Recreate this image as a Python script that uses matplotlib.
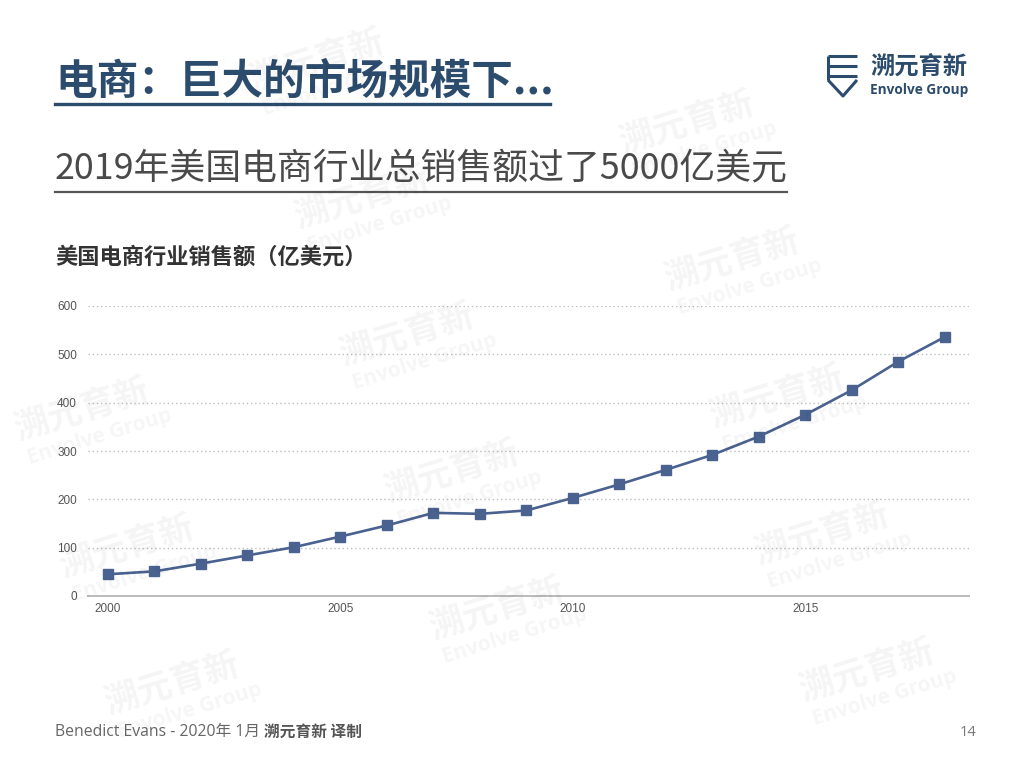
import matplotlib
matplotlib.use("Agg")
import matplotlib.pyplot as plt
import numpy as np

# 美国电商行业销售额（亿美元）
years = [2000, 2001, 2002, 2003, 2004, 2005, 2006, 2007, 2008, 2009,
         2010, 2011, 2012, 2013, 2014, 2015, 2016, 2017, 2018]
sales = [45, 51, 67, 84, 101, 123, 146, 172, 170, 177,
         203, 231, 261, 292, 330, 375, 426, 485, 536]
yticks = [0, 100, 200, 300, 400, 500, 600]
xticks = [2000, 2005, 2010, 2015]

TITLE = "电商：巨大的市场规模下..."
SUBTITLE = "2019年美国电商行业总销售额过了5000亿美元"
CHART_LABEL = "美国电商行业销售额（亿美元）"
FOOTER = "Benedict Evans - 2020年 1月 "
FOOTER_BOLD = "溯元育新 译制"
PAGE = "14"

CJK = ["Noto Sans CJK SC", "DejaVu Sans"]
DARK_BLUE = "#2c4c6e"
LINE_BLUE = "#4a6290"

W, H = 1024, 768
fig = plt.figure(figsize=(W / 100, H / 100), dpi=100)


def px(x, y):
    # pixel coords (top-left origin) -> figure fraction
    return x / W, 1 - y / H


# headings
fig.text(*px(55, 82), TITLE, family=CJK, fontsize=30, fontweight="bold",
         color=DARK_BLUE, va="center", ha="left")
fig.add_artist(plt.Line2D([55 / W, 550 / W], [1 - 104 / H] * 2, color=DARK_BLUE,
                          lw=2.4))
fig.text(*px(55, 168), SUBTITLE, family=CJK, fontsize=25.8, color="#4a4a4a",
         va="center", ha="left")
fig.add_artist(plt.Line2D([55 / W, 787 / W], [1 - 192 / H] * 2, color="#555555",
                          lw=1.6))
fig.text(*px(55, 257), CHART_LABEL, family=CJK, fontsize=16, fontweight="bold",
         color="#333333", va="center", ha="left")

# logo
for xs, ys in [([828, 857], [56, 56]), ([828, 857], [66, 66]), ([828, 857], [76, 76]),
               ([828, 828], [56, 80]), ([828, 843, 857], [80, 96, 80])]:
    fig.add_artist(plt.Line2D([x / W for x in xs], [1 - y / H for y in ys],
                              color=DARK_BLUE, lw=2.2, solid_capstyle="butt"))
fig.text(*px(870, 68), "溯元育新", family=CJK, fontsize=17.5, fontweight="bold",
         color=DARK_BLUE, va="center", ha="left")
fig.text(*px(870, 90), "Envolve Group", family=["Open Sans", "DejaVu Sans"],
         fontsize=9.8, fontweight="bold", color=DARK_BLUE, va="center", ha="left")

# chart
ax = fig.add_axes([88 / W, 172 / H, 881 / W, 290 / H])
ax.patch.set_alpha(0)
ax.plot(years, sales, color=LINE_BLUE, lw=1.9, marker="s", markersize=6.5,
        markerfacecolor=LINE_BLUE, markeredgecolor=LINE_BLUE, zorder=3, clip_on=False)
ax.set_xlim(1999.57, 2018.52)
ax.set_ylim(0, 600)
ax.set_yticks(yticks)
ax.set_xticks(xticks)
ax.grid(axis="y", linestyle=(0, (1, 2)), color="#bdbdbd", lw=1)
for s in ["top", "right", "left"]:
    ax.spines[s].set_visible(False)
ax.spines["bottom"].set_color("#bbbbbb")
ax.spines["bottom"].set_linewidth(1.4)
ax.tick_params(axis="both", length=0, labelsize=8.5, labelcolor="#555555")
ax.tick_params(axis="y", pad=8)
ax.tick_params(axis="x", pad=5)
for lab in ax.get_xticklabels() + ax.get_yticklabels():
    lab.set_family("Liberation Sans")

# footer: bold part placed right after the regular part
foot = fig.text(*px(55, 732), FOOTER, family=["Open Sans", "Noto Sans CJK SC"],
                fontsize=11.3, color="#666666", va="center", ha="left")
fig.canvas.draw()
bb = foot.get_window_extent()
fig.text(bb.x1 / W, 1 - 732 / H, FOOTER_BOLD, family=CJK, fontsize=11.3,
         fontweight="bold", color="#555555", va="center", ha="left")
fig.text(*px(968, 732), PAGE, family=["Open Sans"], fontsize=10.5, color="#777777",
         va="center", ha="center")

# faint watermarks (only the ones that fit inside the page)
ang = np.deg2rad(17)
for i in range(-3, 5):
    for j in range(-4, 5):
        x0 = 340 + 325 * i + 45 * j
        y0 = 355 - 75 * i + 137 * j
        if not (0 < x0 < W - 200 and 60 < y0 < H - 30):
            continue
        fig.text(*px(x0, y0), "溯元育新", family=CJK, fontsize=25, fontweight="bold",
                 color="black", alpha=0.045, rotation=17, rotation_mode="anchor",
                 va="center", ha="left")
        dx, dy = 30 * np.sin(ang) + 4, 30 * np.cos(ang)
        fig.text(*px(x0 + dx, y0 + dy), "Envolve Group",
                 family=["Open Sans", "DejaVu Sans"], fontsize=15, fontweight="bold",
                 color="black", alpha=0.04, rotation=17, rotation_mode="anchor",
                 va="center", ha="left")

fig.savefig("out.png", dpi=100)
